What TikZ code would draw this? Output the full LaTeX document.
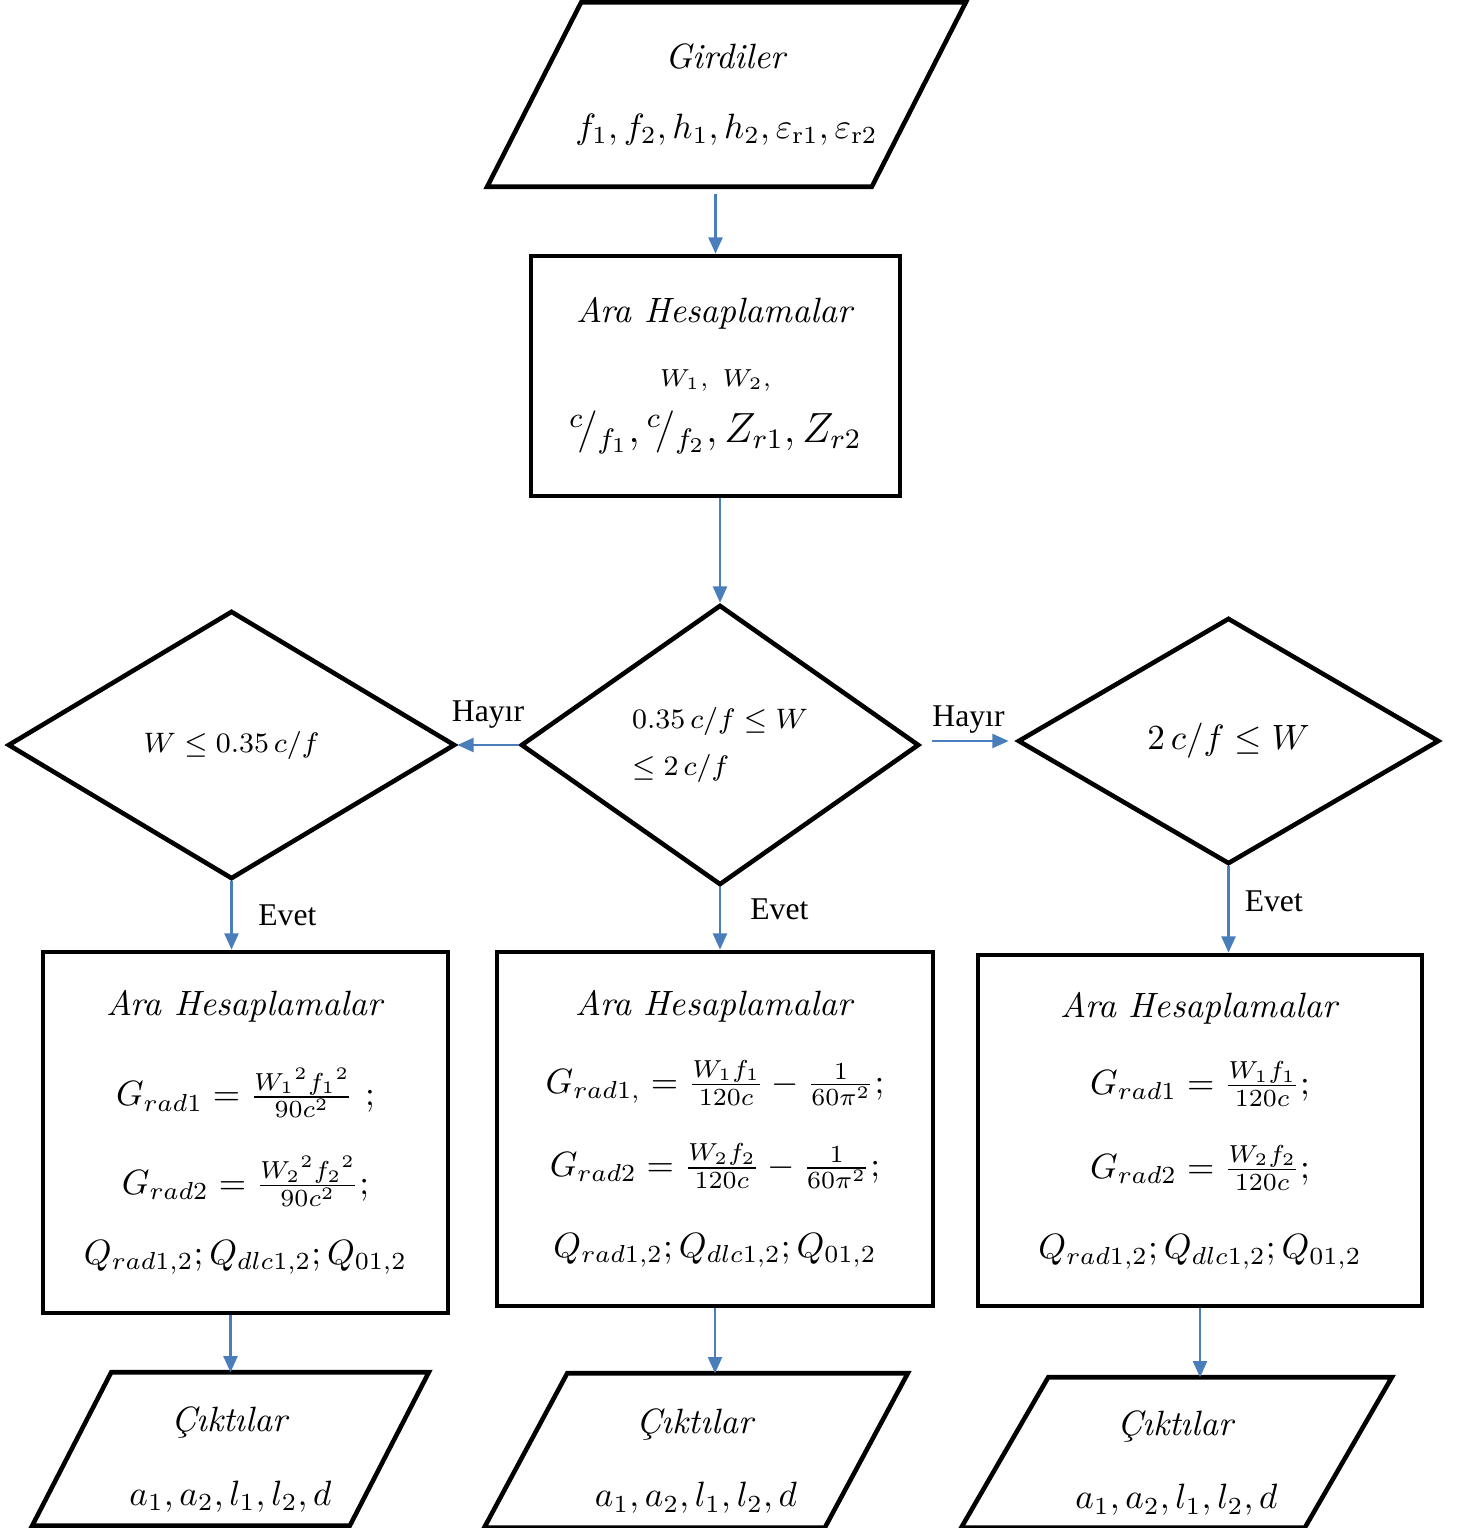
\documentclass[tikz,border=0pt]{standalone}
\usepackage{amsmath}
\usepackage{fontspec}
\usepackage{tikz}
\usetikzlibrary{arrows.meta,positioning,calc,shapes.geometric}
\newfontfamily\labelfont{Liberation Serif}
\definecolor{FlowBlue}{HTML}{4A7EBB}

\begin{document}
\begin{tikzpicture}[x=0.01cm, y=-0.01cm, every node/.style={font=\normalsize},
		shapeline/.style={draw, line width=1.3pt, line join=miter},
		calcbox/.style={shapeline, rectangle, align=center, inner sep=0pt},
		cond/.style={shapeline, diamond, align=left, inner sep=0pt},
		io/.style={rectangle, align=center, inner sep=0pt},
		arr/.style={-{Triangle[length=4.6pt,width=4pt]}, FlowBlue, line width=0.6pt},
		ans/.style={text=black, font=\labelfont\fontsize{9}{11}\selectfont}]
		\useasboundingbox (0,0) rectangle (1458,1528);
		\node[io, minimum width=3.83cm, minimum height=1.83cm] (inp) at (726.5,94.5) {\textit{Girdiler}\\[8pt] $f_1, f_2, h_1, h_2, \varepsilon_{\mathrm{r}1}, \varepsilon_{\mathrm{r}2}$};
		\node[calcbox, minimum width=3.69cm, minimum height=2.4cm] (prep) at (715.5,376) {\textit{Ara Hesaplamalar}\\[6pt] {\scriptsize $W_1,\ W_2,$}\\[4pt] {\large ${}^{c}\!/_{f_1}, {}^{c}\!/_{f_2}, Z_{r1}, Z_{r2}$}};
		\node[cond, minimum width=3.98cm, minimum height=2.8cm, font=\footnotesize] (midc) at (720,745) {$0.35\,c/f \le W$\\[4pt] $\le 2\,c/f$};
		\node[cond, minimum width=4.47cm, minimum height=2.68cm, font=\footnotesize] (lowc) at (231.5,745) {$W \le 0.35\,c/f$};
		\node[cond, minimum width=4.21cm, minimum height=2.46cm] (highc) at (1228.5,741) {$2\,c/f \le W$};
		\node[calcbox, minimum width=4.05cm, minimum height=3.61cm] (lowcalc) at (245.5,1132.5) {\textit{Ara Hesaplamalar}\\[12pt] $G_{rad1} = \frac{{W_1}^2{f_1}^2}{90c^2}\ ;$\\[10pt] $G_{rad2} = \frac{{W_2}^2{f_2}^2}{90c^2};$\\[8pt] $Q_{rad1,2}; Q_{dlc1,2}; Q_{01,2}$};
		\node[calcbox, minimum width=4.36cm, minimum height=3.54cm] (midcalc) at (715,1129) {\textit{Ara Hesaplamalar}\\[10pt] $G_{rad1,} = \frac{W_1f_1}{120c} - \frac{1}{60\pi^2};$\\[10pt] $G_{rad2} = \frac{W_2f_2}{120c} - \frac{1}{60\pi^2};$\\[11pt] $Q_{rad1,2}; Q_{dlc1,2}; Q_{01,2}$};
		\node[calcbox, minimum width=4.44cm, minimum height=3.51cm] (highcalc) at (1200,1130.5) {\textit{Ara Hesaplamalar}\\[10pt] $G_{rad1} = \frac{W_1f_1}{120c};$\\[10pt] $G_{rad2} = \frac{W_2f_2}{120c};$\\[11pt] $Q_{rad1,2}; Q_{dlc1,2}; Q_{01,2}$};
		\node[io, minimum width=3.16cm, minimum height=1.52cm] (lowout) at (230.5,1449) {\rule{0pt}{13pt}\textit{Çıktılar}\\[9pt] $a_1, a_2, l_1, l_2, d$};
		\node[io, minimum width=3.39cm, minimum height=1.53cm] (midout) at (696,1450.5) {\rule{0pt}{13pt}\textit{Çıktılar}\\[9pt] $a_1, a_2, l_1, l_2, d$};
		\node[io, minimum width=3.42cm, minimum height=1.49cm] (highout) at (1176.5,1452.5) {\rule{0pt}{13pt}\textit{Çıktılar}\\[9pt] $a_1, a_2, l_1, l_2, d$};
		\foreach \n/\s in {inp/4.7mm, lowout/3.95mm, midout/4.15mm, highout/4.35mm}
			\draw[shapeline] ([xshift=\s]\n.north west) -- ([xshift=\s]\n.north east) -- ([xshift=-\s]\n.south east) -- ([xshift=-\s]\n.south west) -- cycle;
		\draw[arr, shorten <=2pt] (inp.south -| prep.north) -- (prep.north); \draw[arr] (midc.north |- prep.south) -- (midc.north);
		\draw[arr] (midc.west) -- node[ans, above=1pt] {Hayır} (lowc.east);
		\draw[arr, shorten <=3pt, shorten >=2pt] (highc.west -| midc.east) -- node[ans, above=-1.5pt] {Hayır} (highc.west);
		\draw[arr] (lowc.south) -- node[ans, right=4pt] {Evet} (lowc.south |- lowcalc.north);
		\draw[arr] (midc.south) -- node[ans, right=5pt, pos=0.35] {Evet} (midc.south |- midcalc.north);
		\draw[arr] (highc.south) -- node[ans, right=1pt, pos=0.4] {Evet} (highc.south |- highcalc.north);
		\draw[arr] (lowout.north |- lowcalc.south) -- (lowout.north); \draw[arr] (midcalc.south) -- (midcalc.south |- midout.north); \draw[arr] (highcalc.south) -- (highcalc.south |- highout.north);
	\end{tikzpicture}
\end{document}
